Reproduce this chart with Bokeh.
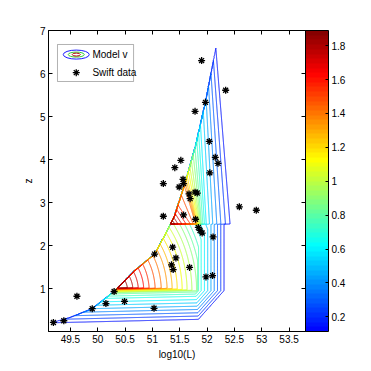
import numpy as np
from bokeh.plotting import figure
from bokeh.models import (LinearAxis, FixedTicker, ColorBar, LinearColorMapper,
                          BoxAnnotation, Range1d, Label, CustomJSTickFormatter)
from bokeh.embed import file_html
from bokeh.resources import INLINE

# ---------------- data ----------------
# Swift GRBs: log10(L) and redshift z
SWIFT_LOGL = [49.19, 49.38, 49.62, 49.90, 50.15, 50.30, 50.49, 51.03, 51.04, 51.37,
              51.43, 51.35, 51.38, 51.68, 51.98, 52.10, 52.11, 51.84, 51.87, 51.91,
              51.79, 51.57, 51.20, 52.59, 52.90, 51.69, 51.67, 51.78, 51.82, 51.49,
              51.57, 51.56, 51.20, 51.41, 51.52, 52.05, 52.20, 52.15, 52.04, 51.78,
              51.97, 52.34, 51.90]
SWIFT_Z = [0.21, 0.25, 0.82, 0.53, 0.65, 0.93, 0.70, 0.54, 1.80, 1.96,
           1.71, 1.55, 1.44, 1.49, 1.27, 1.30, 2.20, 2.42, 2.35, 2.29,
           2.61, 2.71, 2.68, 2.90, 2.82, 3.09, 3.20, 3.24, 3.22, 3.36,
           3.44, 3.54, 3.44, 3.81, 3.98, 3.69, 3.91, 4.05, 4.42, 5.12,
           5.33, 5.61, 6.30]

# flux-limit curve of the model (z -> log10 L)
LIM_Z = [0.17, 0.33, 0.53, 0.93, 1.40, 1.80, 2.20, 2.68, 3.38, 4.32, 5.40, 6.60]
LIM_L = [49.05, 49.50, 49.90, 50.30, 50.66, 51.04, 51.21, 51.40, 51.58, 51.79, 51.98, 52.16]

# model v, low-redshift bin: value vs (tilted) redshift
FZ_Z = [0.10, 0.20, 0.75, 0.86, 0.93, 0.98, 1.00]
FZ_V = [0.00, 0.15, 0.68, 0.85, 1.25, 1.90, 3.00]
# model v, low-redshift bin: value vs elliptic distance from the peak
E_R = [0.00, 0.25, 0.65, 0.95, 1.20, 1.50, 1.65, 2.50]
E_V = [2.10, 1.85, 1.55, 1.35, 1.15, 0.90, 0.75, 0.00]
# model v, low-redshift bin: value vs distance from the luminosity cut
H_D = [-1.0, 0.00, 0.04, 0.50, 0.70, 3.00]
H_V = [0.00, 0.00, 0.15, 0.72, 1.50, 10.0]
# model v, high-redshift bin: iso-lines from base luminosity to limit curve
UP_LB = [51.33, 51.49, 51.70, 51.79, 51.82, 51.86, 51.90, 51.98, 52.10, 52.25, 52.42, 52.60]
UP_ZT = [2.50, 2.68, 2.95, 3.38, 3.60, 3.90, 4.30, 4.80, 5.40, 6.00, 6.60, 7.40]
UP_V = [1.95, 1.75, 1.55, 1.42, 1.20, 1.00, 0.80, 0.60, 0.45, 0.30, 0.15, 0.00]

LEVELS = [0.150, 0.224, 0.298, 0.372, 0.446, 0.520, 0.594, 0.668, 0.742, 0.816,
          0.890, 0.964, 1.038, 1.112, 1.186, 1.260, 1.334, 1.408, 1.482, 1.556,
          1.630, 1.704, 1.778, 1.852]
CBAR_TICKS = [0.2, 0.4, 0.6, 0.8, 1.0, 1.2, 1.4, 1.6, 1.8]
X_TICKS = [49.5, 50, 50.5, 51, 51.5, 52, 52.5, 53, 53.5]
Y_TICKS = [1, 2, 3, 4, 5, 6, 7]

# model parameters
CORNER_L, CORNER_Z, ELL_RATIO = 50.30, 0.93, 1.7
FAN_SLOPE = 0.03
LCUT_HI, LCUT_Z, LCUT_SLOPE = 52.35, 0.95, 0.7
Z_SPLIT, Z_TOP = 2.5, 6.6
V_LOW, V_HIGH = 0.113, 1.89

# ---------------- model field ----------------
Lg = np.linspace(49.1, 53.8, 941)
zg = np.linspace(0.0, 7.0, 701)
LL, ZZ = np.meshgrid(Lg, zg)
llim = np.interp(ZZ, LIM_Z, LIM_L)

zeff = ZZ - FAN_SLOPE * (LL - Lg[0])
fz = np.interp(zeff, FZ_Z, FZ_V)
r = np.hypot(np.maximum(LL - CORNER_L, 0), np.maximum(ZZ - CORNER_Z, 0) / ELL_RATIO)
E = np.interp(r, E_R, E_V)
Lr = np.interp(ZZ, [0.0, LCUT_Z, 7.0], [LCUT_HI - LCUT_SLOPE * LCUT_Z, LCUT_HI, LCUT_HI])
H = np.interp(Lr - LL, H_D, H_V)
Vlow = np.minimum(np.minimum(fz, E), H)

Lb_f = np.linspace(UP_LB[0], UP_LB[-1], 600)
zt_f = np.interp(Lb_f, UP_LB, UP_ZT)
vb_f = np.interp(Lb_f, UP_LB, UP_V)
Ltop_f = np.interp(zt_f, LIM_Z, LIM_L)
Vup = np.zeros_like(LL)
for j, z in enumerate(zg):
    if z < Z_SPLIT or z > Z_TOP:
        continue
    act = zt_f > z
    t = (z - Z_SPLIT) / (zt_f[act] - Z_SPLIT)
    xp = Lb_f[act] + (Ltop_f[act] - Lb_f[act]) * t
    x0 = np.interp(z, LIM_Z, LIM_L)
    v0 = np.interp(z, UP_ZT, UP_V)
    xp = np.maximum.accumulate(np.concatenate([[x0], xp]))
    fp = np.concatenate([[v0], vb_f[act]])
    Vup[j] = np.interp(Lg, xp, fp, left=0.0, right=0.0)

V = np.where(ZZ < Z_SPLIT, Vlow, Vup)
V = np.where((LL < llim) | (ZZ > Z_TOP), 0.0, V)
V = np.maximum(V, 0.0)


def jet(u):
    rr = np.clip(1.5 - abs(4 * u - 3), 0, 1)
    gg = np.clip(1.5 - abs(4 * u - 2), 0, 1)
    bb = np.clip(1.5 - abs(4 * u - 1), 0, 1)
    return "#%02x%02x%02x" % (int(rr * 255), int(gg * 255), int(bb * 255))


def cmap(v):
    t = (v - V_LOW) / (V_HIGH - V_LOW)
    return jet(0.125 + 0.875 * t)


palette = [jet(0.125 + 0.875 * (i + 0.5) / 64) for i in range(64)]
level_colors = [cmap(v) for v in LEVELS]

# ---------------- figure ----------------
FONT = "Liberation Sans"
X0, X1, Y0, Y1 = 49.1, 53.8, 0.0, 7.0
p = figure(frame_width=257, frame_height=301, x_range=Range1d(X0, X1), y_range=Range1d(Y0, Y1),
           output_backend="svg", toolbar_location=None, x_axis_location=None, y_axis_location=None,
           min_border_left=48, min_border_top=30, min_border_right=0, min_border_bottom=0)
p.grid.visible = False
p.outline_line_color = "black"
p.background_fill_color = "white"

fmt = CustomJSTickFormatter(code="return tick.toString();")


def make_axis(ticks, labels=True, label_text=None):
    ax = LinearAxis(ticker=FixedTicker(ticks=ticks), formatter=fmt)
    ax.major_tick_in = 4
    ax.major_tick_out = 0
    ax.minor_tick_line_color = None
    ax.axis_line_color = "black"
    ax.major_tick_line_color = "black"
    ax.major_label_text_font = FONT
    if labels:
        ax.major_label_text_font_size = "10px"
        ax.major_label_text_color = "black"
        ax.major_label_standoff = 3
    else:
        ax.major_label_text_font_size = "1px"
        ax.major_label_text_color = None
        ax.major_label_standoff = 0
    if label_text:
        ax.axis_label = label_text
        ax.axis_label_text_font = FONT
        ax.axis_label_text_font_size = "10px"
        ax.axis_label_text_font_style = "normal"
        ax.axis_label_text_color = "black"
        ax.axis_label_standoff = 3
    return ax


p.add_layout(make_axis(X_TICKS, True, "log10(L)"), "below")
p.add_layout(make_axis(Y_TICKS, True, "z"), "left")
p.add_layout(make_axis(X_TICKS, False), "above")
p.add_layout(make_axis(Y_TICKS, False), "right")

# contour lines of the model
p.contour(x=Lg, y=zg, z=V, levels=LEVELS, line_color=level_colors, line_width=1)

# Swift data
p.scatter(SWIFT_LOGL, SWIFT_Z, marker="asterisk", size=7, line_color="black", line_width=1.3)

# colorbar
mapper = LinearColorMapper(palette=palette, low=V_LOW, high=V_HIGH)
cb = ColorBar(color_mapper=mapper, ticker=FixedTicker(ticks=CBAR_TICKS), formatter=fmt,
              width=23, padding=0, margin=2, label_standoff=3,
              major_label_text_font=FONT, major_label_text_font_size="10px",
              major_label_text_color="black",
              major_tick_in=3, major_tick_out=0, major_tick_line_color="black",
              minor_tick_line_color=None, bar_line_color="black",
              border_line_color=None, background_fill_color=None)
p.add_layout(cb, "right")


# legend (drawn by hand to mimic the contour icon)
def fx(f):
    return X0 + f * (X1 - X0)


def fy(f):
    return Y0 + f * (Y1 - Y0)


box = BoxAnnotation(left=fx(0.035), right=fx(0.331), bottom=fy(0.8306), top=fy(0.9535),
                    fill_color="white", fill_alpha=1.0, line_color="black", line_width=1)
p.add_layout(box)
ell = p.ellipse(x=[fx(0.108)] * 3, y=[fy(0.920)] * 3, width=[26, 16, 8], height=[9, 5, 3],
                width_units="screen", height_units="screen", fill_color=None,
                line_color=["#1a1aff", "#33cc33", "#b00000"], line_width=1)
ell.level = "overlay"
star = p.scatter([fx(0.108)], [fy(0.860)], marker="asterisk", size=7, line_color="black",
                 line_width=1.3)
star.level = "overlay"
for txt, fyv in (("Model v", 0.920), ("Swift data", 0.860)):
    p.add_layout(Label(x=fx(0.171), y=fy(fyv), text=txt, text_font=FONT, text_font_size="10px",
                       text_baseline="middle", text_color="black"))

open("out.html", "w").write(file_html(p, INLINE))
